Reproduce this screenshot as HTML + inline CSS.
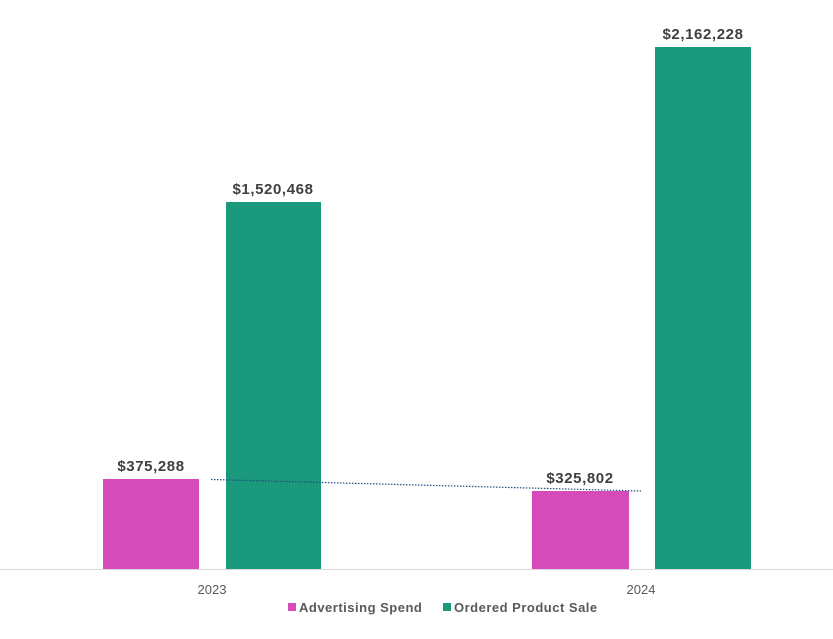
<!DOCTYPE html>
<html><head><style>
html,body{margin:0;padding:0;background:#fff;}
svg{display:block;font-family:"Liberation Sans",sans-serif;}
</style></head><body>
<svg width="833" height="639" viewBox="0 0 833 639">
<line x1="0" y1="569.5" x2="833" y2="569.5" stroke="#d9d9d9" stroke-width="1"/>
<rect x="103" y="479" width="96" height="90" fill="#D64BBA"/>
<rect x="226" y="202" width="95" height="367" fill="#1A997C"/>
<rect x="532" y="491" width="97" height="78" fill="#D64BBA"/>
<rect x="655" y="47" width="96" height="522" fill="#1A997C"/>
<line x1="211" y1="479.5" x2="641" y2="491" stroke="#1f4e79" stroke-width="1.2" stroke-dasharray="1.5,1.5"/>
<g font-weight="bold" font-size="15" fill="#404040" text-anchor="middle" letter-spacing="0.6">
<text x="151" y="471">$375,288</text>
<text x="273" y="194">$1,520,468</text>
<text x="580" y="483">$325,802</text>
<text x="703" y="39">$2,162,228</text>
</g>
<g font-size="13" fill="#595959" text-anchor="middle">
<text x="212" y="594">2023</text>
<text x="641" y="594">2024</text>
</g>
<rect x="288" y="603" width="8" height="8" fill="#D64BBA"/>
<text x="299" y="612" font-size="13" font-weight="bold" fill="#595959" letter-spacing="0.5">Advertising Spend</text>
<rect x="443" y="603" width="8" height="8" fill="#1A997C"/>
<text x="454" y="612" font-size="13" font-weight="bold" fill="#595959" letter-spacing="0.5">Ordered Product Sale</text>
</svg>
</body></html>
